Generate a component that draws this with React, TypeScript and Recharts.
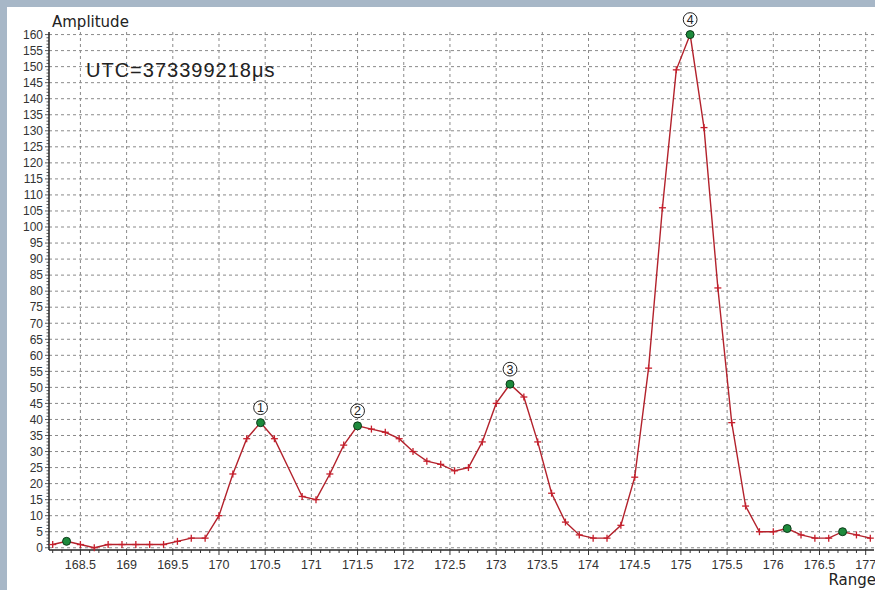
import React from 'react';
import { LineChart, Line, XAxis, YAxis, CartesianGrid } from 'recharts';

const rangeValues = [
  168.2, 168.35, 168.5, 168.65, 168.8, 168.95, 169.1, 169.25, 169.4, 169.55,
  169.7, 169.85, 170.0, 170.15, 170.3, 170.45, 170.6, 170.9, 171.05, 171.2,
  171.35, 171.5, 171.65, 171.8, 171.95, 172.1, 172.25, 172.4, 172.55, 172.7,
  172.85, 173.0, 173.15, 173.3, 173.45, 173.6, 173.75, 173.9, 174.05, 174.2,
  174.35, 174.5, 174.65, 174.8, 174.95, 175.1, 175.25, 175.4, 175.55, 175.7,
  175.85, 176.0, 176.15, 176.3, 176.45, 176.6, 176.75, 176.9, 177.05,
];

const amplitudeValues = [
  1, 2, 1, 0, 1, 1, 1, 1, 1, 2,
  3, 3, 10, 23, 34, 39, 34, 16, 15, 23,
  32, 38, 37, 36, 34, 30, 27, 26, 24, 25,
  33, 45, 51, 47, 33, 17, 8, 4, 3, 3,
  7, 22, 56, 106, 149, 160, 131, 81, 39, 13,
  5, 5, 6, 4, 3, 3, 5, 4, 3,
];

const markedRanges = [168.35, 170.45, 171.5, 173.15, 175.1, 176.15, 176.75];
const peakRanges = [170.45, 171.5, 173.15, 175.1];
const peakLabels = ['1', '2', '3', '4'];

const xMajorTicks = [168.5, 169, 169.5, 170, 170.5, 171, 171.5, 172, 172.5, 173, 173.5, 174, 174.5, 175, 175.5, 176, 176.5, 177];
const yMajorTicks = [0, 5, 10, 15, 20, 25, 30, 35, 40, 45, 50, 55, 60, 65, 70, 75, 80, 85, 90, 95, 100, 105, 110, 115, 120, 125, 130, 135, 140, 145, 150, 155, 160];

const xAxisTitle = 'Range';
const yAxisTitle = 'Amplitude';
const utcLabel = 'UTC=373399218\u03bcs';

const xMinorTicks: number[] = [];
for (let k = 0; k <= 88; k++) xMinorTicks.push(Math.round((168.2 + 0.1 * k) * 10) / 10);
const yMinorTicks: number[] = [];
for (let k = 0; k <= 160; k++) yMinorTicks.push(k);

const data = rangeValues.map((r, i) => ({ range: r, amplitude: amplitudeValues[i] }));

const X_DOMAIN: [number, number] = [168.16, 177.09];
const Y_DOMAIN: [number, number] = [-0.7, 160.8];

const TICK_FONT = '"Liberation Sans", Arial, sans-serif';
const TITLE_FONT = '"DejaVu Sans", sans-serif';
const LINE_RED = '#b3222c';
const CROSS_RED = '#c61f2c';

const near = (a: number, b: number) => Math.abs(a - b) < 1e-6;

const XTick = (props: any) => {
  const { x, y, payload } = props;
  const v = payload.value;
  const major = xMajorTicks.some((t) => near(t, v));
  return (
    <g>
      <line x1={x} x2={x} y1={y} y2={y + (major ? 5 : 3)} stroke="#333" strokeWidth={1} />
      {major && (
        <text x={x} y={y + 19} textAnchor="middle" fontSize={12.5} fontFamily={TICK_FONT} fill="#333">
          {String(v)}
        </text>
      )}
    </g>
  );
};

const YTick = (props: any) => {
  const { x, y, payload } = props;
  const v = payload.value;
  const major = yMajorTicks.some((t) => near(t, v));
  return (
    <g>
      <line x1={x - (major ? 4 : 2.5)} x2={x} y1={y} y2={y} stroke="#333" strokeWidth={0.8} />
      {major && (
        <text x={x - 6} y={y + 4.3} textAnchor="end" fontSize={12} fontFamily={TICK_FONT} fill="#333">
          {String(v)}
        </text>
      )}
    </g>
  );
};

const renderDot = (props: any) => {
  const { cx, cy, payload, index } = props;
  const key = `dot-${index}`;
  if (cx == null || cy == null) return <g key={key} />;
  const marked = markedRanges.some((r) => near(r, payload.range));
  const peakIdx = peakRanges.findIndex((r) => near(r, payload.range));
  if (marked) {
    return (
      <g key={key}>
        <circle cx={cx} cy={cy} r={4} fill="#1d8a3c" stroke="#0c3a18" strokeWidth={1} />
        {peakIdx >= 0 && (
          <g>
            <circle cx={cx} cy={cy - 15} r={6.9} fill="#fff" stroke="#222" strokeWidth={1} />
            <text x={cx} y={cy - 15} dy={4.4} textAnchor="middle" fontSize={12.5} fontFamily={TICK_FONT} fill="#222">
              {peakLabels[peakIdx]}
            </text>
          </g>
        )}
      </g>
    );
  }
  return (
    <g key={key}>
      <line x1={cx - 3.5} x2={cx + 3.5} y1={cy} y2={cy} stroke={CROSS_RED} strokeWidth={1.3} />
      <line x1={cx} x2={cx} y1={cy - 3.5} y2={cy + 3.5} stroke={CROSS_RED} strokeWidth={1.3} />
    </g>
  );
};

const scaleOf = (axis: any) => {
  const s = axis && axis.scale;
  if (typeof s === 'function') return (v: number) => s(v);
  if (s && typeof s.map === 'function') return (v: number) => s.map(v);
  return (v: number) => 0;
};

export default function App() {
  return (
    <div style={{ position: 'absolute', left: 0, top: 0, width: 875, height: 590, background: '#a7b7c7', overflow: 'hidden' }}>
      <div style={{ position: 'absolute', left: 7, top: 7, width: 868, height: 583, background: '#ffffff' }} />
      <div style={{ position: 'absolute', left: 0, top: 0 }}>
        <LineChart width={875} height={590} data={data} margin={{ top: 32, right: 1, bottom: 0, left: 0 }}>
          <CartesianGrid
            stroke="#8a8a8a"
            strokeDasharray="3 3"
            verticalCoordinatesGenerator={(p: any) => xMajorTicks.map(scaleOf(p.xAxis))}
            horizontalCoordinatesGenerator={(p: any) => yMajorTicks.map(scaleOf(p.yAxis))}
          />
          <XAxis
            dataKey="range"
            type="number"
            domain={X_DOMAIN}
            ticks={xMinorTicks}
            interval={0}
            height={40}
            tickSize={0}
            tickMargin={0}
            tickLine={false}
            tick={XTick}
            axisLine={{ stroke: '#222', strokeWidth: 1.5 }}
          />
          <XAxis
            xAxisId="top"
            orientation="top"
            type="number"
            domain={X_DOMAIN}
            height={0}
            tick={false}
            tickLine={false}
            axisLine={{ stroke: '#444', strokeWidth: 1.8 }}
          />
          <YAxis
            type="number"
            domain={Y_DOMAIN}
            ticks={yMinorTicks}
            interval={0}
            width={49}
            tickSize={0}
            tickMargin={0}
            tickLine={false}
            tick={YTick}
            axisLine={{ stroke: '#222', strokeWidth: 1.5 }}
          />
          <YAxis
            yAxisId="right"
            orientation="right"
            type="number"
            domain={Y_DOMAIN}
            width={0}
            tick={false}
            tickLine={false}
            axisLine={{ stroke: '#444', strokeWidth: 1.8 }}
          />
          <Line
            dataKey="amplitude"
            type="linear"
            stroke={LINE_RED}
            strokeWidth={1.4}
            dot={renderDot}
            activeDot={false}
            isAnimationActive={false}
          />
        </LineChart>
      </div>
      <svg width={875} height={590} style={{ position: 'absolute', left: 0, top: 0, pointerEvents: 'none' }}>
        <text x={52} y={26.5} fontSize={15} fontFamily={TITLE_FONT} fill="#222">{yAxisTitle}</text>
        <text x={86} y={77} fontSize={20} letterSpacing={1} fontFamily={TICK_FONT} fill="#222">{utcLabel}</text>
        <text x={876} y={585} textAnchor="end" fontSize={15} fontFamily={TITLE_FONT} fill="#222">{xAxisTitle}</text>
      </svg>
    </div>
  );
}
